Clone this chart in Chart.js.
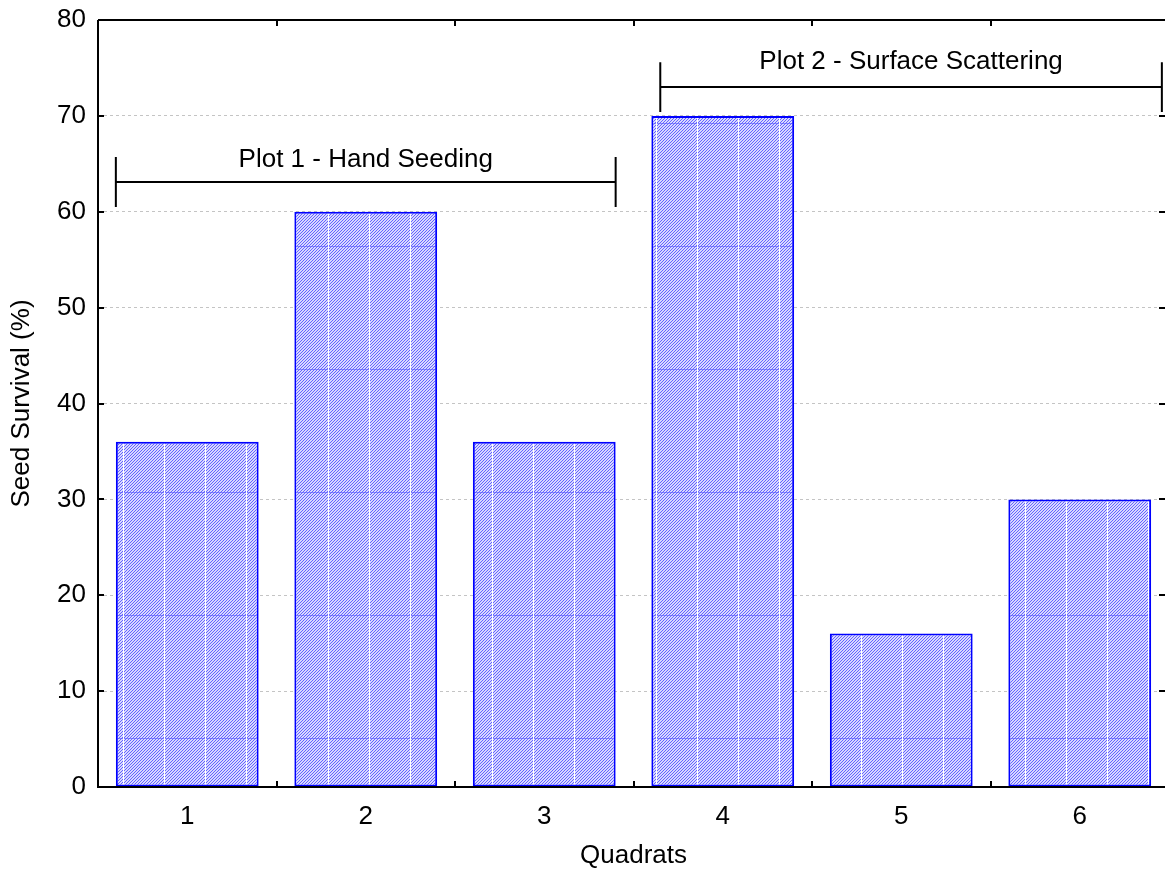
<!DOCTYPE html>
<html>
<head>
<meta charset="utf-8">
<script src="https://cdn.jsdelivr.net/npm/chart.js@4"></script>
<style>
    html, body { margin: 0; padding: 0; background: #fff; overflow: hidden; }
    #wrap { width: 1169px; height: 872px; position: relative; }
</style>
</head>
<body>
<div id="wrap"><canvas id="seedChart"></canvas></div>
<script>
// Data
const quadrats = ['1', '2', '3', '4', '5', '6'];
const survival = [36, 60, 36, 70, 16, 30];

// Bracket annotations (category index units, y in %)
const bracketLabels = ['Plot 1 - Hand Seeding', 'Plot 2 - Surface Scattering'];
const bracketStart = [-0.4, 2.65];
const bracketEnd = [2.4, 5.46];
const bracketLevel = [63.1, 73.0];
const bracketCap = [2.6, 2.6];
const bracketTextLevel = [65.4, 75.6];

const FONT = '"Liberation Sans", Arial, sans-serif';
const FONT_SIZE = 26;

// Hatched fill like the original plot
function makeHatch() {
    const c = document.createElement('canvas');
    c.width = 41;
    c.height = 123;
    const g = c.getContext('2d');
    g.fillStyle = '#d8d8ff';
    g.fillRect(0, 0, c.width, c.height);
    g.fillStyle = '#6464ff';
    for (let row = 0; row < c.height; row++) {
        for (let x = 0; x < c.width; x++) {
            if ((x + row) % 3 === 0) g.fillRect(x, row, 1, 1);
        }
    }
    // faint tile seams
    g.fillStyle = 'rgba(80,80,255,0.6)';
    g.fillRect(0, 0, c.width, 1);
    g.fillStyle = '#ffffff';
    g.fillRect(0, 0, 1, c.height);
    return g.createPattern(c, 'repeat');
}

// Frame, inside ticks and brackets
const framePlugin = {
    id: 'frame',
    afterDraw(chart) {
        const ctx = chart.ctx;
        const a = chart.chartArea;
        const xs = chart.scales.x;
        const ys = chart.scales.y;
        ctx.save();
        ctx.strokeStyle = '#000';
        ctx.lineWidth = 2;
        ctx.beginPath();
        ctx.moveTo(a.left, a.top);
        ctx.lineTo(a.right, a.top);
        ctx.moveTo(a.left, a.top);
        ctx.lineTo(a.left, a.bottom);
        ctx.lineTo(a.right, a.bottom);
        ctx.lineTo(a.right, a.top);
        ctx.stroke();

        // ticks between categories
        ctx.beginPath();
        for (let i = 0; i <= quadrats.length; i++) {
            const px = Math.round(xs.getPixelForValue(i - 0.5));
            ctx.moveTo(px, a.bottom);
            ctx.lineTo(px, a.bottom - 6);
            ctx.moveTo(px, a.top);
            ctx.lineTo(px, a.top + 6);
        }
        // y ticks
        ys.ticks.forEach(t => {
            const py = Math.round(ys.getPixelForValue(t.value));
            ctx.moveTo(a.left, py);
            ctx.lineTo(a.left + 6, py);
            ctx.moveTo(a.right - 4, py);
            ctx.lineTo(a.right - 10, py);
        });
        ctx.stroke();

        // brackets
        ctx.font = FONT_SIZE + 'px ' + FONT;
        ctx.fillStyle = '#000';
        ctx.textAlign = 'center';
        ctx.textBaseline = 'middle';
        for (let i = 0; i < bracketLabels.length; i++) {
            const x1 = xs.getPixelForValue(bracketStart[i]);
            const x2 = xs.getPixelForValue(bracketEnd[i]);
            const y = ys.getPixelForValue(bracketLevel[i]);
            const yTop = ys.getPixelForValue(bracketLevel[i] + bracketCap[i]);
            const yBot = ys.getPixelForValue(bracketLevel[i] - bracketCap[i]);
            ctx.beginPath();
            ctx.moveTo(x1, y);
            ctx.lineTo(x2, y);
            ctx.moveTo(x1, yTop);
            ctx.lineTo(x1, yBot);
            ctx.moveTo(x2, yTop);
            ctx.lineTo(x2, yBot);
            ctx.stroke();
            ctx.fillText(bracketLabels[i], (x1 + x2) / 2, ys.getPixelForValue(bracketTextLevel[i]));
        }
        ctx.restore();
    }
};

document.addEventListener('DOMContentLoaded', () => {
    const ctx = document.getElementById('seedChart').getContext('2d');
    new Chart(ctx, {
        type: 'bar',
        data: {
            labels: quadrats,
            datasets: [{
                data: survival,
                backgroundColor: makeHatch(),
                borderColor: '#0000ff',
                borderWidth: 2,
                borderSkipped: false,
                categoryPercentage: 0.8,
                barPercentage: 1.0
            }]
        },
        options: {
            responsive: true,
            maintainAspectRatio: false,
            animation: false,
            layout: { padding: { top: 20, right: 0, left: 0, bottom: 0 } },
            plugins: {
                legend: { display: false },
                tooltip: { enabled: false }
            },
            scales: {
                x: {
                    grid: { display: false, drawTicks: false },
                    border: { display: false },
                    ticks: {
                        color: '#000',
                        font: { family: FONT, size: FONT_SIZE },
                        padding: 14
                    },
                    title: {
                        display: true,
                        text: 'Quadrats',
                        color: '#000',
                        font: { family: FONT, size: FONT_SIZE },
                        padding: { top: 10, bottom: 1 }
                    },
                    afterFit(scale) {
                        scale.height = 85;
                        scale.paddingLeft = 0;
                        scale.paddingRight = 0;
                    }
                },
                y: {
                    min: 0,
                    max: 80,
                    grid: {
                        color: '#c4c4c4',
                        lineWidth: 1,
                        drawTicks: false
                    },
                    border: { display: false, dash: [3, 3] },
                    ticks: {
                        stepSize: 10,
                        color: '#000',
                        font: { family: FONT, size: FONT_SIZE },
                        padding: 12
                    },
                    title: {
                        display: true,
                        text: 'Seed Survival (%)',
                        color: '#000',
                        font: { family: FONT, size: FONT_SIZE },
                        padding: { top: 6, bottom: 8 }
                    },
                    afterFit(scale) {
                        scale.width = 98;
                        scale.paddingTop = 0;
                        scale.paddingBottom = 0;
                    }
                }
            }
        },
        plugins: [framePlugin]
    });
});
</script>
</body>
</html>
